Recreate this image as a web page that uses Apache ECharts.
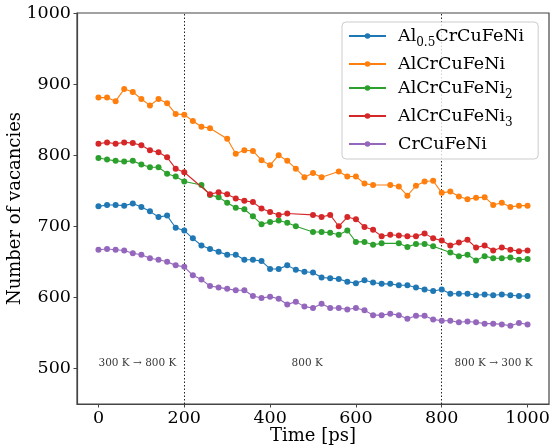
<!DOCTYPE html>
<html>
<head>
<meta charset="utf-8">
<script src="https://cdn.jsdelivr.net/npm/echarts@6/dist/echarts.min.js"></script>
<style>
html,body{margin:0;padding:0;background:#fff;}
#chart{width:552px;height:448px;}
</style>
</head>
<body>
<div id="chart"></div>
<script>
// ---- data ----
const times = [0,20,40,60,80,100,120,140,160,180,200,220,240,260,280,300,320,340,360,380,400,420,440,460,480,500,520,540,560,580,600,620,640,660,680,700,720,740,760,780,800,820,840,860,880,900,920,940,960,980,1000];
const seriesNames = ['Al0.5CrCuFeNi','AlCrCuFeNi','AlCrCuFeNi2','AlCrCuFeNi3','CrCuFeNi'];
const al05 = [728,730,730,729,732,727,721,713,715,698,694,683,673,668,664,660,660,653,653,651,640,640,645,639,636,635,628,627,626,622,620,624,621,619,619,617,617,614,611,609,611,605,605,605,603,604,603,604,603,602,602];
const al1 = [881,881,876,893,889,879,870,879,873,858,857,848,840,838,null,823,802,807,806,793,786,800,792,781,769,775,769,null,777,770,770,760,758,null,758,756,743,757,763,764,747,749,742,738,740,741,730,733,727,729,729];
const ni2 = [796,794,792,791,792,787,783,783,774,770,763,null,758,744,741,733,726,724,714,703,706,708,705,700,null,692,692,691,688,694,678,678,674,676,null,676,671,675,675,672,null,663,658,660,652,658,655,655,656,653,654];
const ni3 = [816,818,816,818,817,814,807,804,797,781,776,null,null,745,748,745,739,736,734,725,720,716,718,null,null,716,713,716,700,713,710,699,695,686,688,687,686,686,690,683,680,673,677,681,670,673,666,670,667,665,666];
const cr0 = [667,668,667,666,662,660,655,653,650,645,643,631,625,616,614,612,610,610,602,599,601,598,590,594,587,585,591,585,585,583,585,582,575,575,577,575,570,574,574,569,567,567,565,566,565,563,563,562,560,564,562];
const xTicks = [0,200,400,600,800,1000];
const yTicks = [500,600,700,800,900,1000];
const phaseBounds = [200,800];
const annotations = [
  {t: 0, v: 500, text: '300 K \u2192 800 K'},
  {t: 450, v: 500, text: '800 K'},
  {t: 830, v: 500, text: '800 K \u2192 300 K'}
];
// ---- chart ----
const colors = ['#1f77b4','#ff7f0e','#2ca02c','#d62728','#9467bd'];
const values = [al05, al1, ni2, ni3, cr0];
const SERIF = 'DejaVu Serif';
const legendRich = {
  '0': '{n|Al}{s|0.5}{n|CrCuFeNi}',
  '1': '{n|AlCrCuFeNi}',
  '2': '{n|AlCrCuFeNi}{s|2}',
  '3': '{n|AlCrCuFeNi}{s|3}',
  '4': '{n|CrCuFeNi}'
};
const chart = echarts.init(document.getElementById('chart'), null, {renderer: 'canvas'});
const series = values.map((arr, i) => ({
  name: seriesNames[i],
  type: 'line',
  data: times.map((t, j) => [t, arr[j]]),
  connectNulls: true,
  symbol: 'circle',
  symbolSize: 6,
  showSymbol: true,
  itemStyle: {color: colors[i]},
  lineStyle: {color: colors[i], width: 1.1},
  z: 3 + i,
  markLine: i === 0 ? {
    silent: true,
    symbol: 'none',
    label: {show: false},
    lineStyle: {type: [1.5, 2], color: '#222', width: 1},
    data: phaseBounds.map(b => ({xAxis: b})),
    z: 2
  } : undefined
}));
series.push({
  name: 'annot',
  type: 'scatter',
  symbolSize: 0,
  silent: true,
  data: annotations.map(a => ({value: [a.t, a.v], name: a.text})),
  label: {
    show: true,
    formatter: p => p.name,
    position: [0, 0],
    distance: 0,
    align: 'left',
    verticalAlign: 'bottom',
    fontFamily: SERIF,
    fontSize: 10.5,
    color: '#000'
  }
});
chart.setOption({
  animation: false,
  backgroundColor: '#fff',
  grid: {left: 77, top: 13, right: 3, bottom: 44, containLabel: false, outerBoundsMode: 'none',
         show: true, borderColor: '#444', borderWidth: 1.2, backgroundColor: 'transparent'},
  xAxis: {
    type: 'value', min: -50, max: 1050,
    name: 'Time [ps]', nameLocation: 'middle', nameGap: 23, nameMoveOverlap: false,
    nameTextStyle: {fontFamily: SERIF, fontSize: 18, color: '#000'},
    axisLine: {show: true, onZero: false, lineStyle: {color: '#444', width: 1.2}},
    axisTick: {show: true, length: 3.5, inside: false, customValues: xTicks, lineStyle: {color: '#444'}},
    axisLabel: {customValues: xTicks, formatter: v => String(v), fontFamily: SERIF, fontSize: 17.5, color: '#000', margin: 5},
    splitLine: {show: false}
  },
  yAxis: {
    type: 'value', min: 450, max: 1000,
    name: 'Number of vacancies', nameLocation: 'middle', nameGap: 53, nameRotate: 90, nameMoveOverlap: false,
    nameTextStyle: {fontFamily: SERIF, fontSize: 18, color: '#000'},
    axisLine: {show: true, onZero: false, lineStyle: {color: '#444', width: 1.2}},
    axisTick: {show: true, length: 3.5, inside: false, customValues: yTicks, lineStyle: {color: '#444'}},
    axisLabel: {customValues: yTicks, formatter: v => String(v), fontFamily: SERIF, fontSize: 17.5, color: '#000', margin: 6},
    splitLine: {show: false}
  },
  legend: {
    data: seriesNames,
    left: 342, top: 22,
    orient: 'vertical',
    itemWidth: 37, itemHeight: 7, itemGap: 6,
    padding: [5, 14, 6, 6],
    backgroundColor: 'rgba(255,255,255,0.8)',
    borderColor: '#ccc', borderWidth: 1, borderRadius: 4,
    formatter: name => legendRich[String(seriesNames.indexOf(name))],
    textStyle: {
      padding: [0, 0, 0, 7],
      rich: {
        n: {fontFamily: SERIF, fontSize: 17.5, color: '#000', lineHeight: 20},
        s: {fontFamily: SERIF, fontSize: 12, color: '#000', lineHeight: 12, verticalAlign: 'bottom', padding: [0, 0, -3, 0]}
      }
    }
  },
  series: series
});
</script>
</body>
</html>
